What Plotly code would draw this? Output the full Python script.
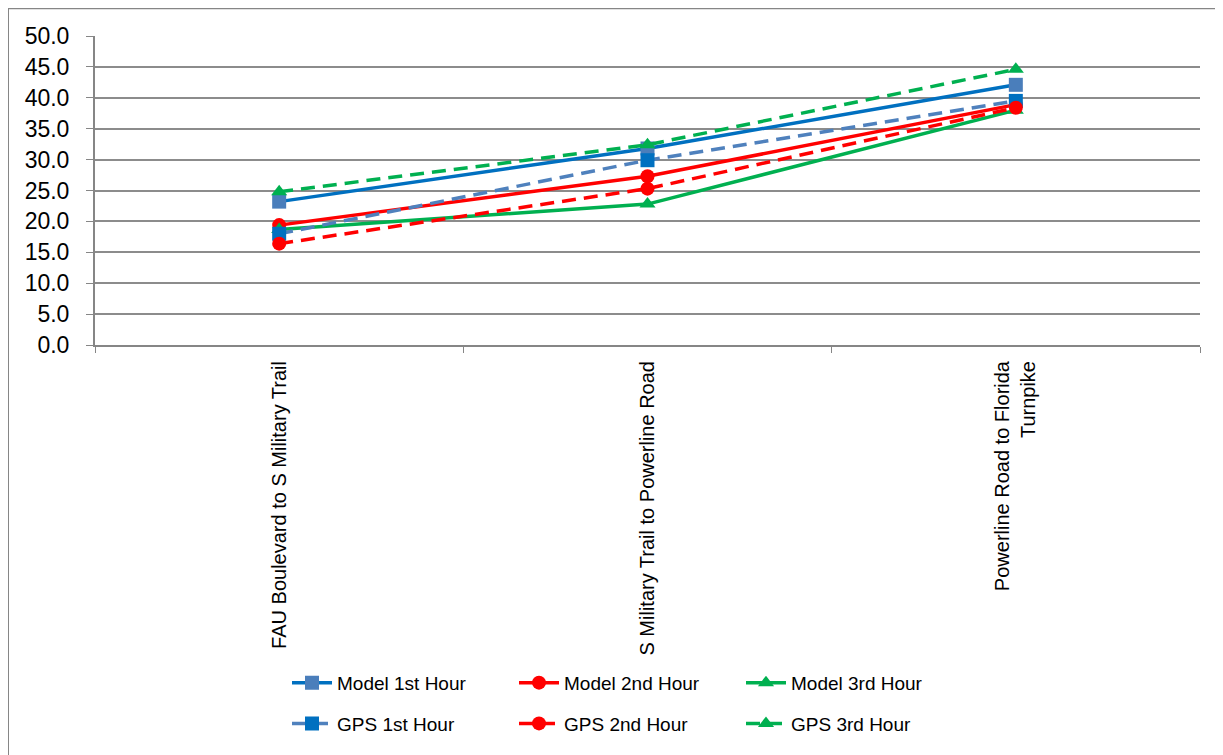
import plotly.graph_objects as go

segments = ['FAU Boulevard to S Military Trail',
            'S Military Trail to Powerline Road',
            'Powerline Road to Florida<br>Turnpike']

model_1st = [23.2, 31.8, 42.1]
model_2nd = [19.4, 27.3, 38.9]
model_3rd = [18.7, 22.8, 38.0]
gps_1st = [18.0, 29.9, 39.5]
gps_2nd = [16.4, 25.3, 38.4]
gps_3rd = [24.8, 32.4, 44.6]

y_ticks = [0, 5, 10, 15, 20, 25, 30, 35, 40, 45, 50]

series = [
    ('Model 1st Hour', model_1st, '#0070C0', '#4A7EBB', 'square', 'solid', 'legend'),
    ('Model 2nd Hour', model_2nd, '#FF0000', '#FF0000', 'circle', 'solid', 'legend'),
    ('Model 3rd Hour', model_3rd, '#00B050', '#00B050', 'triangle-up', 'solid', 'legend'),
    ('GPS 1st Hour', gps_1st, '#4F81BD', '#0070C0', 'square', '14px,8px', 'legend2'),
    ('GPS 2nd Hour', gps_2nd, '#FF0000', '#FF0000', 'circle', '14px,8px', 'legend2'),
    ('GPS 3rd Hour', gps_3rd, '#00B050', '#00B050', 'triangle-up', '14px,8px', 'legend2'),
]

fig = go.Figure()
for name, vals, lc, mc, sym, dash, leg in series:
    fig.add_trace(go.Scatter(
        x=segments, y=vals, name=name, mode='lines+markers',
        line=dict(color=lc, width=3.5, dash=dash),
        marker=dict(symbol=sym, size=14, color=mc),
        legend=leg,
    ))

# page has an 8px body margin, so the figure is drawn 8px in
W, H = 1215, 747
L, T, PW, PH = 87, 28, 1105, 311
bottom = T + PH

font = 'Liberation Sans, Arial, sans-serif'
legend_common = dict(orientation='h', xanchor='left', yanchor='middle',
                     font=dict(family=font, size=19, color='#000000'),
                     entrywidth=172, entrywidthmode='pixels',
                     bgcolor='rgba(0,0,0,0)', itemwidth=40, tracegroupgap=0)

fig.update_layout(
    width=W, height=H,
    margin=dict(l=L, r=W - L - PW, t=T, b=H - T - PH),
    paper_bgcolor='white', plot_bgcolor='white',
    font=dict(family=font, color='#000000'),
    showlegend=True,
    legend=dict(x=(279 - L) / PW, y=(bottom - 679) / PH, **legend_common),
    legend2=dict(x=(279 - L) / PW, y=(bottom - 720) / PH, **legend_common),
    xaxis=dict(
        type='category', tickson='boundaries', ticks='outside', ticklen=6,
        tickcolor='#868686', showline=True, linecolor='#868686', linewidth=2,
        showgrid=False, tickangle=-90, tickfont=dict(family=font, size=20),
        ticklabelstandoff=6, range=[-0.5, 2.5],
    ),
    yaxis=dict(
        range=[0, 50], tickvals=y_ticks, tickformat='.1f',
        ticks='outside', ticklen=7, tickcolor='#868686',
        showline=True, linecolor='#868686', linewidth=2,
        showgrid=True, gridcolor='#8C8C8C', gridwidth=2,
        zeroline=False, tickfont=dict(family=font, size=23),
        ticklabelstandoff=12,
    ),
    shapes=[dict(type='rect', xref='paper', yref='paper',
                 x0=(0 - L) / PW, x1=(W - L) / PW,
                 y0=(bottom - H - 20) / PH, y1=1 + T / PH,
                 line=dict(color='#868686', width=2))],
)

fig.write_html('out.html')
